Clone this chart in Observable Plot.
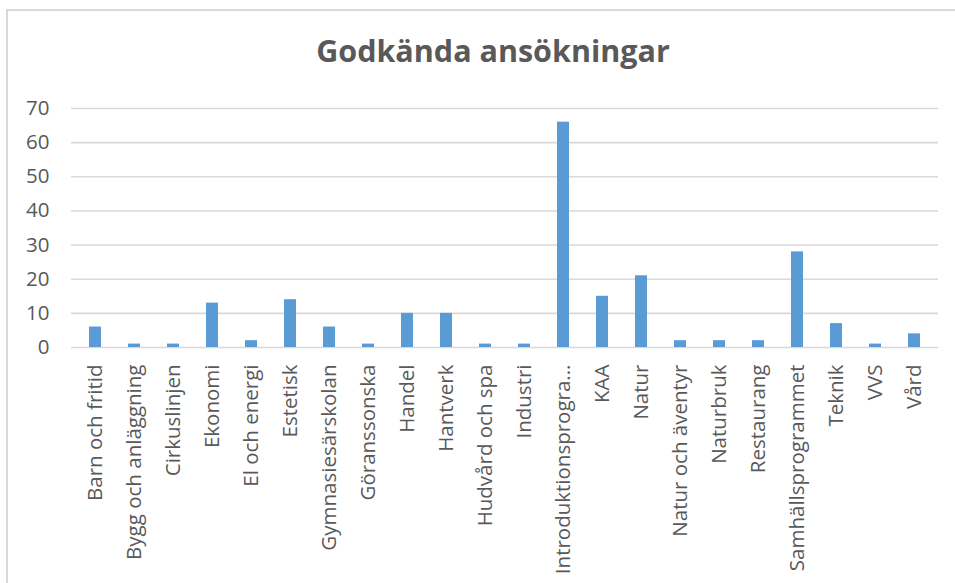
<!DOCTYPE html>
<html>
<head>
<meta charset="utf-8">
<script src="https://cdn.jsdelivr.net/npm/d3@7"></script>
<script src="https://cdn.jsdelivr.net/npm/@observablehq/plot@0.6"></script>
<style>
  html, body { margin: 0; padding: 0; background: #fff; }
  body { width: 955px; height: 583px; position: relative; overflow: hidden; }
  #frame { position: absolute; left: 6px; top: 9px; right: -2px; bottom: -2px;
           border-left: 2px solid #d9d9d9; border-top: 2px solid #d9d9d9; }
  #title { position: absolute; left: 0; top: 30px; width: 986px; text-align: center;
           font-family: "Open Sans", sans-serif; font-weight: bold; font-size: 30.5px;
           color: #595959; line-height: 40px; }
  #chart { position: absolute; left: 0; top: 0; }
  #chart svg text { font-size: 20.5px; font-family: "Open Sans", sans-serif; }
</style>
</head>
<body>
<div id="frame"></div>
<div id="title">Godkända ansökningar</div>
<div id="chart"></div>
<script>
const categories = [
  "Barn och fritid", "Bygg och anläggning", "Cirkuslinjen", "Ekonomi", "El och energi",
  "Estetisk", "Gymnasiesärskolan", "Göranssonska", "Handel", "Hantverk",
  "Hudvård och spa", "Industri", "Introduktionsprogrammet", "KAA", "Natur",
  "Natur och äventyr", "Naturbruk", "Restaurang", "Samhällsprogrammet", "Teknik",
  "VVS", "Vård"
];
const values = [6, 1, 1, 13, 2, 14, 6, 1, 10, 10, 1, 1, 66, 15, 21, 2, 2, 2, 28, 7, 1, 4];
const yTicks = [0, 10, 20, 30, 40, 50, 60, 70];

const data = categories.map((c, i) => ({category: c, value: values[i]}));
const fmt = d => d.length > 20 ? d.slice(0, 19) + "..." : d;

const chart = Plot.plot({
  width: 955,
  height: 583,
  marginTop: 108,
  marginBottom: 236,
  marginLeft: 71,
  marginRight: 17,
  style: {fontFamily: "Open Sans, sans-serif", fontSize: "20.5px", color: "#595959", background: "transparent"},
  x: {domain: categories, paddingInner: 0.68, paddingOuter: 0.34, label: null},
  y: {domain: [0, 70], label: null},
  marks: [
    Plot.gridY(yTicks, {stroke: "#d9d9d9", strokeOpacity: 1, strokeWidth: 1.6}),
    Plot.barY(data, {x: "category", y: "value", fill: "#5B9BD5"}),
    Plot.axisX({tickSize: 0, tickRotate: -90, tickPadding: 17, tickFormat: fmt, label: null}),
    Plot.axisY(yTicks, {tickSize: 0, tickPadding: 22, label: null})
  ]
});
document.getElementById("chart").appendChild(chart);
</script>
</body>
</html>
